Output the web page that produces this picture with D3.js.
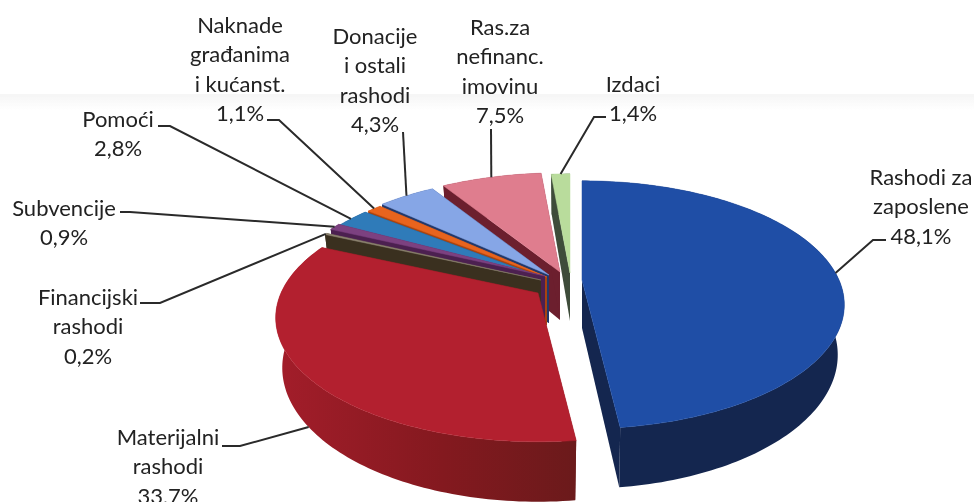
<!DOCTYPE html>
<html>
<head>
<meta charset="utf-8">
<script src="https://cdn.jsdelivr.net/npm/d3@7/dist/d3.min.js"></script>
<style>
html,body{margin:0;padding:0;background:#fff;overflow:hidden}
svg{display:block;filter:blur(0.45px)}
text{font-family:Lato,"Open Sans",sans-serif;font-size:22px;fill:#222;text-anchor:middle}
</style>
</head>
<body>
<svg id="chart" width="974" height="502"></svg>
<script>
// ---- data ----
const categories = ["Rashodi za zaposlene","Materijalni rashodi","Financijski rashodi","Subvencije","Pomoći","Naknade građanima i kućanst.","Donacije i ostali rashodi","Ras.za nefinanc. imovinu","Izdaci"];
const shares = [48.1,33.7,0.2,0.9,2.8,1.1,4.3,7.5,1.4];
const shareLabels = ["48,1%","33,7%","0,2%","0,9%","2,8%","1,1%","4,3%","7,5%","1,4%"];
const labelLines = [["Rashodi za","zaposlene"],["Materijalni","rashodi"],["Financijski","rashodi"],["Subvencije"],["Pomoći"],["Naknade","građanima","i kućanst."],["Donacije","i ostali","rashodi"],["Ras.za","nefinanc.","imovinu"],["Izdaci"]];

// ---- styling and layout ----
const topColors  = ["#1f4ea6","#b3202f","#8c8270","#7c4180","#2f7bb9","#e8641e","#86a6e6","#df7d8e","#b9dc9c"];
const wallColors = ["#14264f","url(#redWall)","#3a301f","#4c2050","#17395f","#a8430f","#22386a","#6c1f2e","#3e4c3a"];
// apex of each exploded slice on the page
const apexX = [582,538,541,545,544,547,549,560,570];
const apexY = [280,293,280,276,278,277,275,272,273];
// label block: centre x, first line centre y
const labelX = [921,168,88,64,118,240,375,500,633];
const labelY = [177,437,297,208,119,25,36,27,84];
const lineStep = 29.5;
// leader: label-side start and elbow
const leaderStart = [[886,240],[222,446],[140,303],[120,212],[158,126],[267,120],[403,132],[491,129],[606,117]];
const leaderElbow = [[873,240],[240,446],[160,303],[130,212],[170,126],[279,120],[403,132],[491,129],[594,117]];
// draw order, back to front
const paintOrder = [8,7,6,5,4,3,2,1,0];

const RX = 257, RY = 119, PERSP = 0.2, DEPTH = 48, FLOOR_SHRINK = 0.975;

const svg = d3.select("#chart");
const defs = svg.append("defs");
const g = defs.append("linearGradient").attr("id","redWall").attr("x1",0).attr("x2",1).attr("y1",0).attr("y2",0);
g.append("stop").attr("offset",0).attr("stop-color","#a31d2a");
g.append("stop").attr("offset",0.55).attr("stop-color","#84191f");
g.append("stop").attr("offset",1).attr("stop-color","#6b1a1b");
const sh = defs.append("linearGradient").attr("id","scanShade").attr("x1",0).attr("x2",0).attr("y1",0).attr("y2",1);
sh.append("stop").attr("offset",0).attr("stop-color","#f4f4f4").attr("stop-opacity",0.9);
sh.append("stop").attr("offset",1).attr("stop-color","#f4f4f4").attr("stop-opacity",0);
svg.append("rect").attr("x",0).attr("y",94).attr("width",974).attr("height",16).attr("fill","url(#scanShade)");

const arcs = d3.pie().sort(null).value(d=>d)(shares);

// perspective projection of a rim point at angle a (clockwise from the back)
function project(i,a,frac,down){
  const u = Math.sin(a)*frac, v = Math.cos(a)*frac;
  const s = 1/(1+PERSP*v);
  return [apexX[i]+RX*u*s*(down?FLOOR_SHRINK:1), apexY[i]-RY*v*s+(down?DEPTH*s:0)];
}
function rim(i,a0,a1,down){
  const n = Math.max(2,Math.ceil(Math.abs(a1-a0)/0.02));
  return d3.range(n+1).map(k=>project(i,a0+(a1-a0)*k/n,1,down));
}
const line = d3.line();
const mark = svg.append("g");

paintOrder.forEach(i=>{
  const {startAngle:a0,endAngle:a1} = arcs[i];
  const sl = mark.append("g");
  const wall = wallColors[i];
  // radial cut faces
  [a0,a1].forEach(a=>{
    const pts=[project(i,a,0,false),project(i,a,1,false),project(i,a,1,true),project(i,a,0,true)];
    sl.append("path").attr("d",line(pts)+"Z").attr("fill",i===1?"#6b1a1b":wall);
  });
  // outer wall
  sl.append("path").attr("d",line(rim(i,a0,a1,false).concat(rim(i,a1,a0,true)))+"Z").attr("fill",wall);
  // top face
  sl.append("path").attr("d",line([project(i,a0,0,false)].concat(rim(i,a0,a1,false)))+"Z")
    .attr("fill",topColors[i]).attr("stroke",topColors[i]).attr("stroke-width",0.5);
});

// leaders
arcs.forEach((d,i)=>{
  const mid=(d.startAngle+d.endAngle)/2;
  const end=project(i,mid,1,Math.cos(mid)<-0.3);
  svg.append("path").attr("d",line([leaderStart[i],leaderElbow[i],end]))
    .attr("fill","none").attr("stroke","#2a2a2a").attr("stroke-width",2);
});

// labels
categories.forEach((c,i)=>{
  const lines=labelLines[i].concat([shareLabels[i]]);
  const t=svg.append("text").attr("aria-label",c);
  lines.forEach((l,k)=>t.append("tspan").attr("x",labelX[i]).attr("y",labelY[i]+k*lineStep).attr("dy","0.35em").text(l));
});
</script>
</body>
</html>
